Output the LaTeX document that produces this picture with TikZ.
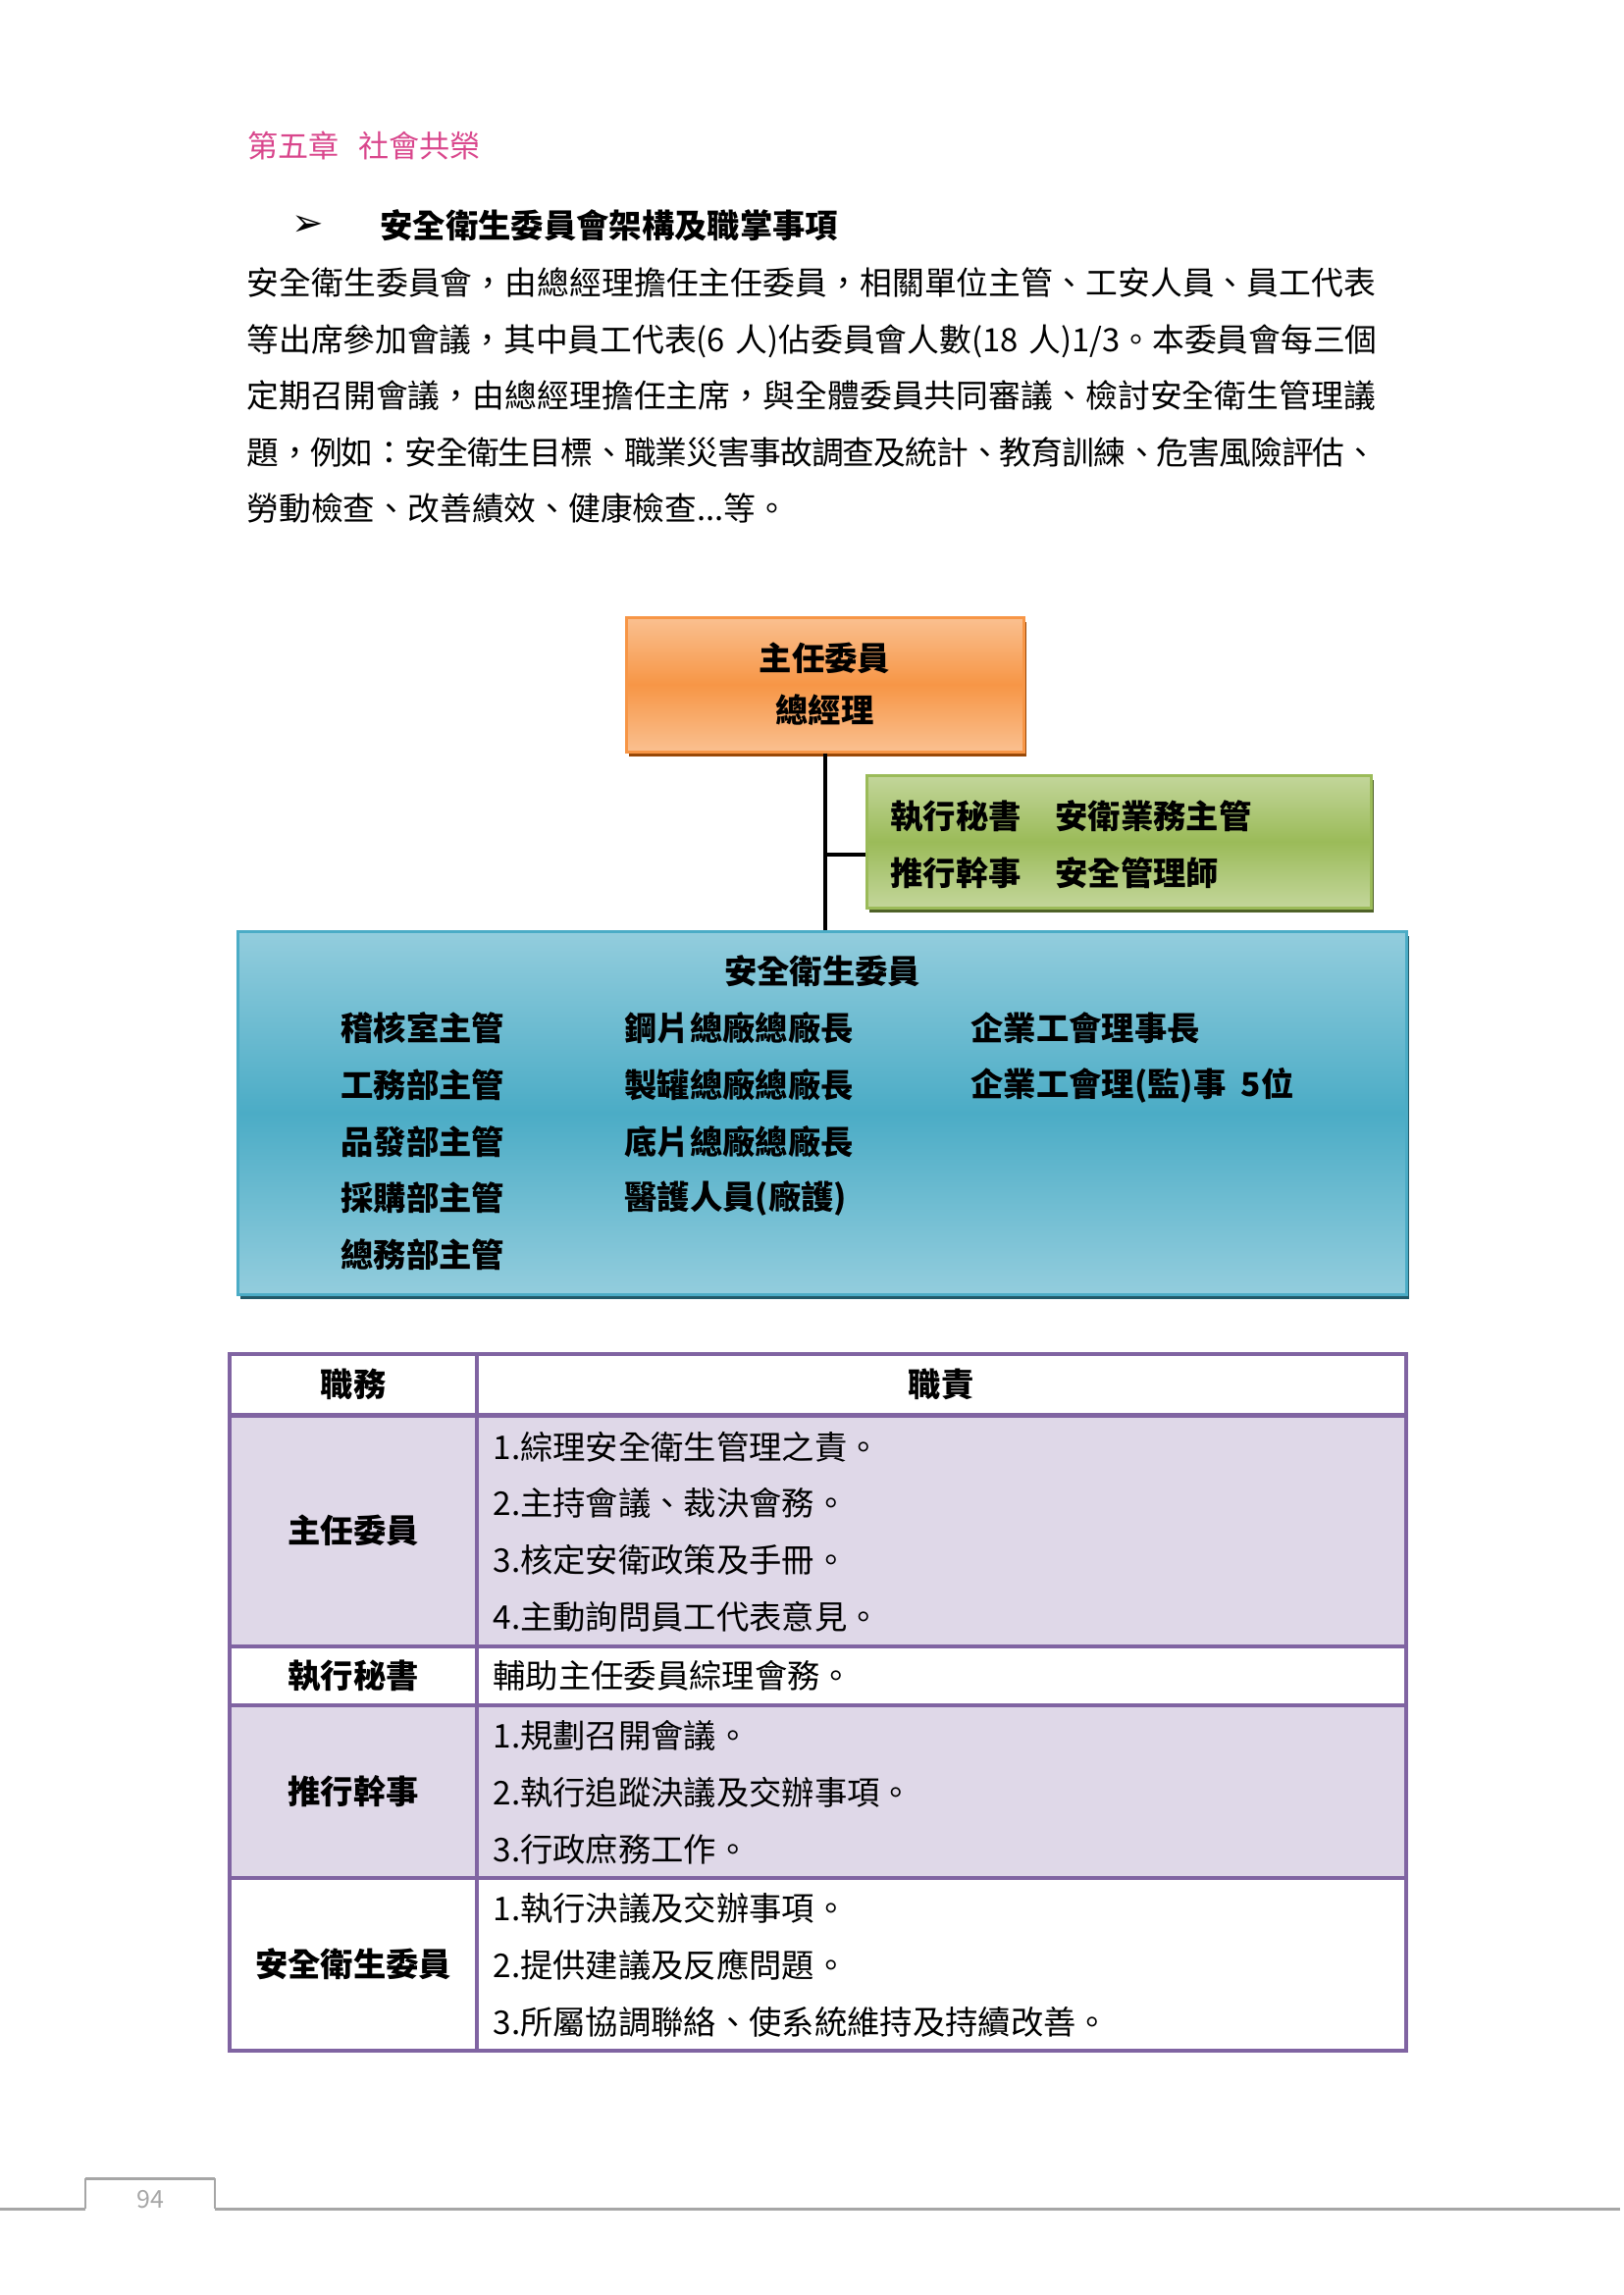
\documentclass[tikz,border=0pt]{standalone}
\usepackage{fontspec}
\setmainfont{Noto Sans CJK TC}
\newfontfamily\symfont{DejaVu Sans}
\usetikzlibrary{positioning,shadows}
\XeTeXlinebreaklocale "zh"
\XeTeXlinebreakskip=0pt plus 2pt minus 1pt
\definecolor{chap}{HTML}{D9468C}
\definecolor{orgl}{HTML}{FAC090}
\definecolor{org}{HTML}{F79646}
\definecolor{orgd}{HTML}{984807}
\definecolor{grnl}{HTML}{C3D69B}
\definecolor{grn}{HTML}{9BBB59}
\definecolor{grnd}{HTML}{4F6228}
\definecolor{bluel}{HTML}{93CDDD}
\definecolor{blue}{HTML}{4BACC6}
\definecolor{blued}{HTML}{215968}
\definecolor{purp}{HTML}{8064A2}
\definecolor{lav}{HTML}{DFD8E8}
\definecolor{foot}{HTML}{A6A6A6}
\tikzset{
  txt/.style={inner sep=0pt,font=\fontsize{12pt}{20.8pt}\selectfont},
  btxt/.style={inner sep=0pt,font=\fontsize{12pt}{20.8pt}\selectfont\bfseries},
  chart/.style n args={3}{draw=#2,line width=1.08pt,top color=#1,bottom color=#1,middle color=#2,
    drop shadow={shadow xshift=1.08pt,shadow yshift=-1.8pt,fill=#3,opacity=1},inner sep=0pt},
  link/.style={draw=black,line width=1.1pt},
  tline/.style={draw=purp,line width=1.1pt},
  footline/.style={draw=foot,line width=1.1pt},
}
\begin{document}
\begin{tikzpicture}[x=0.36pt,y=-0.36pt]
  \useasboundingbox (0,0) rectangle (1654,2339);
  % ---- heading and text
  \node[anchor=west,inner sep=0pt,text=chap,font=\fontsize{11.2pt}{13pt}\selectfont] (chapter) at (252,148) {第五章\hspace{7pt}社會共榮};
  \node[inner sep=0pt,font=\symfont\fontsize{14pt}{16pt}\selectfont] (bullet) at (314,230) {➢};
  \node[btxt,anchor=west] (title) at (387,230) {安全衛生委員會架構及職掌事項};
  \node[inner sep=0pt,anchor=west,text width=414.7pt,font=\fontsize{11.8pt}{20.7pt}\selectfont] (intro) at (251,403)
    {\parindent=0pt\parskip=0pt\parfillskip=0pt
     安全衛生委員會，由總經理擔任主任委員，相關單位主管、工安人員、員工代表\par
     等出席參加會議，其中員工代表(6 人)佔委員會人數(18 人)1/3。本委員會每三個\par
     定期召開會議，由總經理擔任主席，與全體委員共同審議、檢討安全衛生管理議\par
     題，例如：安全衛生目標、職業災害事故調查及統計、教育訓練、危害風險評估、\par
     勞動檢查、改善績效、健康檢查...等。\parfillskip=0pt plus 1fil\par};

  % ---- org chart
  \node[chart={orgl}{org}{orgd},minimum width=405*0.36pt,minimum height=137*0.36pt,
        align=center,font=\fontsize{12pt}{19.1pt}\selectfont\bfseries] (chief) at (840.5,697.5) {主任委員\\總經理};
  \node[chart={grnl}{grn}{grnd},minimum width=514*0.36pt,minimum height=135*0.36pt] (sec) at (1140,857.5) {};
  \node[btxt,anchor=west] (seca) at (907,832) {執行秘書};
  \node[btxt,anchor=west] (secb) at (1075,832) {安衛業務主管};
  \node[btxt,anchor=west] (secc) at (907,890) {推行幹事};
  \node[btxt,anchor=west] (secd) at (1075,890) {安全管理師};
  \node[chart={bluel}{blue}{blued},minimum width=1191*0.36pt,minimum height=370*0.36pt] (board) at (837.5,1134) {};
  \node[btxt] (boardt) at (838,990) {安全衛生委員};
  \foreach \t [count=\i] in {稽核室主管,工務部主管,品發部主管,採購部主管,總務部主管}
    \node[btxt,anchor=west] (ma\i) at (347,{1048+57.7*(\i-1)}) {\t};
  \foreach \t [count=\i] in {鋼片總廠總廠長,製罐總廠總廠長,底片總廠總廠長,醫護人員(廠護)}
    \node[btxt,anchor=west] (mb\i) at (636,{1048+57.7*(\i-1)}) {\t};
  \node[btxt,anchor=west] (mc1) at (989,1048) {企業工會理事長};
  \node[btxt,anchor=west] (mc2) at (989,1106) {企業工會理(監)事\hspace{5.5pt}5位};
  \coordinate (branch) at (841,871);
  \draw[link] (chief.south -| branch) -- (board.north -| branch);
  \draw[link] (branch) -- (branch -| sec.west);

  % ---- duties table
  \fill[lav] (234,1442) rectangle (1433,1678);
  \fill[lav] (234,1738) rectangle (1433,1914);
  \draw[tline] (234,1380) rectangle (1433,2090);
  \draw[tline] (486,1380) -- (486,2090);
  \draw[tline,line width=1.8pt] (234,1442) -- (1433,1442);
  \foreach \y in {1678,1738,1914} \draw[tline] (234,\y) -- (1433,\y);
  \node[btxt] (hrole) at (360,1411) {職務};
  \node[btxt] (hduty) at (959,1411) {職責};
  \node[btxt] (role1) at (360,1560) {主任委員};
  \node[btxt] (role2) at (360,1708) {執行秘書};
  \node[btxt] (role3) at (360,1826) {推行幹事};
  \node[btxt] (role4) at (360,2002) {安全衛生委員};
  \node[txt,anchor=west,align=left] (duty1) at (502,1561)
    {1.綜理安全衛生管理之責。\\2.主持會議、裁決會務。\\3.核定安衛政策及手冊。\\4.主動詢問員工代表意見。};
  \node[txt,anchor=west] (duty2) at (502,1708) {輔助主任委員綜理會務。};
  \node[txt,anchor=west,align=left] (duty3) at (502,1827)
    {1.規劃召開會議。\\2.執行追蹤決議及交辦事項。\\3.行政庶務工作。};
  \node[txt,anchor=west,align=left] (duty4) at (502,2003)
    {1.執行決議及交辦事項。\\2.提供建議及反應問題。\\3.所屬協調聯絡、使系統維持及持續改善。};

  % ---- footer
  \draw[footline] (0,2251) -- (87,2251);
  \draw[footline] (87,2220) -- (219,2220);
  \draw[footline] (219,2251) -- (1651,2251);
  \draw[draw=foot,line width=0.4pt] (87,2251) -- (87,2220) (219,2220) -- (219,2251);
  \node[inner sep=0pt,text=foot,font=\fontsize{9pt}{11pt}\selectfont] (page) at (153,2242) {94};
\end{tikzpicture}
\end{document}
